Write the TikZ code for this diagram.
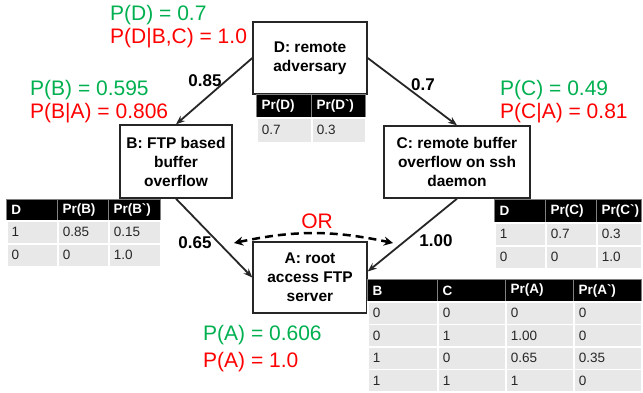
\documentclass[tikz,border=0pt]{standalone}
\usepackage{fontspec}
\setmainfont{Liberation Sans}
\usetikzlibrary{arrows.meta}
\definecolor{pgreen}{HTML}{00B050}
\definecolor{pred}{HTML}{FF0000}
\definecolor{ink}{HTML}{262626}
\tikzset{
	event/.style={draw=ink, line width=1.4pt, fill=white, align=center, inner sep=0pt,
		font=\fontsize{15.5}{19}\selectfont\bfseries},
	link/.style={draw=ink, line width=1.8pt, -{Stealth[length=9pt,width=7pt]}},
	choice/.style={draw=black, line width=2.5pt, dash pattern=on 8pt off 5pt,
		{Stealth[length=9pt,width=9pt]}-{Stealth[length=9pt,width=9pt]}},
	weight/.style={font=\fontsize{17}{20}\selectfont\bfseries, inner sep=0pt},
	prior/.style={text=pgreen, font=\fontsize{21}{24}\selectfont, anchor=west, inner sep=0pt},
	posterior/.style={text=pred, font=\fontsize{21}{24}\selectfont, anchor=west, inner sep=0pt},
	hcell/.style={anchor=north west, fill=black, draw=gray, line width=1pt, text=white,
		font=\fontsize{13.5}{15}\selectfont\bfseries, inner xsep=5pt, inner ysep=0pt,
		text width=#1, align=left},
	bcell/.style={anchor=north west, fill=gray!18, draw=white, line width=1.5pt, text=ink,
		font=\fontsize{13.5}{15}\selectfont, inner xsep=5pt, inner ysep=0pt,
		text width=#1, align=left},
}
\begin{document}
\begin{tikzpicture}[x=1pt, y=-1pt]
	\useasboundingbox (0,0) rectangle (643,392);
	% events
	\node[event, minimum width=114pt, minimum height=72pt] (d) at (310,58) {D: remote\\adversary};
	\node[event, minimum width=112pt, minimum height=73pt] (b) at (176,161.5) {B: FTP based\\buffer\\overflow};
	\node[event, minimum width=146pt, minimum height=72pt] (c) at (457,162) {C: remote buffer\\overflow on ssh\\daemon};
	\node[event, minimum width=114pt, minimum height=71pt] (a) at (310,277.5) {A: root\\access FTP\\server};
	%
	\draw[link] (d.west) -- (b.north);
	\draw[link] (d.east) -- (c.north);
	\draw[link] (b.south) -- (a.west);
	\draw[link] (c.south) -- ([yshift=6pt]a.east);
	\node[weight] (wdb) at (205,81) {0.85};
	\node[weight] (wdc) at (423,85) {0.7};
	\node[weight] (wba) at (195,243) {0.65};
	\node[weight] (wca) at (436,241) {1.00};
	% OR
	\coordinate (orl) at (234,243);
	\coordinate (orr) at (393,243);
	\draw[choice] (orl) to[bend left=12] (orr);
	\node[text=pred, font=\fontsize{21}{24}\selectfont, inner sep=0pt] (or) at (317,221) {OR};
	% probabilities
	\node[prior] (pd) at (110,15) {P(D) = 0.7};
	\node[posterior] (pdbc) at (110,38) {P(D|B,C) = 1.0};
	\node[prior] (pb) at (30,90) {P(B) = 0.595};
	\node[posterior] (pba) at (30,113) {P(B|A) = 0.806};
	\node[prior] (pc) at (500,90) {P(C) = 0.49};
	\node[posterior] (pca) at (500,113) {P(C|A) = 0.81};
	\node[prior] (pa) at (203,335) {P(A) = 0.606};
	\node[posterior] (pa2) at (203,362) {P(A) = 1.0};
	% table D
	\foreach \x/\w/\t [count=\i] in {256/45/Pr(D), 311/44/Pr(D\textasciigrave)}
		\node[hcell=\w pt, minimum height=23pt] (dh\i) at (\x,94) {\t};
	\foreach \x/\w/\t [count=\i] in {256/45/0.7, 311/44/0.3}
		\node[bcell=\w pt, minimum height=25pt] (dr\i) at (\x,117) {\t};
	% table B
	\foreach \x/\w/\t [count=\i] in {6/41/D, 57/41/Pr(B), 108/42/Pr(B\textasciigrave)}
		\node[hcell=\w pt, minimum height=21pt] (bh\i) at (\x,199) {\t};
	\foreach \y/\p/\q/\s [count=\r] in {220/1/0.85/0.15, 243/0/0/1.0} {
		\node[bcell=41pt, minimum height=23pt] (br\r-1) at (6,\y) {\p};
		\node[bcell=41pt, minimum height=23pt] (br\r-2) at (57,\y) {\q};
		\node[bcell=42pt, minimum height=23pt] (br\r-3) at (108,\y) {\s};
	}
	% table C
	\foreach \x/\w/\t [count=\i] in {494/41/D, 545/41/Pr(C), 596/35/Pr(C\textasciigrave)}
		\node[hcell=\w pt, minimum height=23pt] (ch\i) at (\x,199) {\t};
	\foreach \y/\p/\q/\s [count=\r] in {222/1/0.7/0.3, 245/0/0/1.0} {
		\node[bcell=41pt, minimum height=23pt] (cr\r-1) at (494,\y) {\p};
		\node[bcell=41pt, minimum height=23pt] (cr\r-2) at (545,\y) {\q};
		\node[bcell=35pt, minimum height=23pt] (cr\r-3) at (596,\y) {\s};
	}
	% table A
	\foreach \x/\w/\t [count=\i] in {367/60/B, 437/58/C, 505/58/Pr(A), 573/58/Pr(A\textasciigrave)}
		\node[hcell=\w pt, minimum height=22pt] (ah\i) at (\x,279) {\t};
	\foreach \y/\p/\q/\s/\u [count=\r] in {301/0/0/0/0, 323.5/0/1/1.00/0, 346/1/0/0.65/0.35, 368.5/1/1/1/0} {
		\node[bcell=60pt, minimum height=22.5pt] (ar\r-1) at (367,\y) {\p};
		\node[bcell=58pt, minimum height=22.5pt] (ar\r-2) at (437,\y) {\q};
		\node[bcell=58pt, minimum height=22.5pt] (ar\r-3) at (505,\y) {\s};
		\node[bcell=58pt, minimum height=22.5pt] (ar\r-4) at (573,\y) {\u};
	}
\end{tikzpicture}
\end{document}
